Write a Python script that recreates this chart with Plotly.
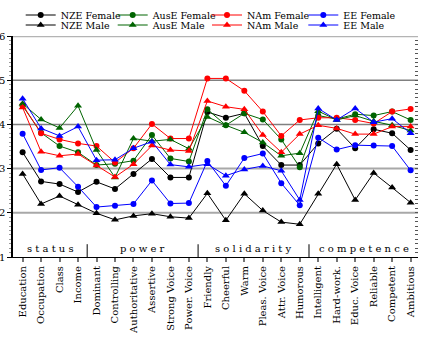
import plotly.graph_objects as go

categories = ["Education", "Occupation", "Class", "Income",
              "Dominant", "Controlling", "Authoritative", "Assertive", "Strong Voice", "Power. Voice",
              "Friendly", "Cheerful", "Warm", "Pleas. Voice", "Attr. Voice", "Humorous",
              "Intelligent", "Hard-work.", "Educ. Voice", "Reliable", "Competent", "Ambitious"]
groups = ["status", "power", "solidarity", "competence"]
group_sizes = [4, 6, 6, 6]

nze_female = [3.37, 2.71, 2.65, 2.47, 2.70, 2.54, 2.88, 3.22, 2.80, 2.80,
              4.28, 4.15, 4.25, 3.51, 3.08, 3.08, 3.57, 3.90, 3.46, 3.89, 3.80, 3.42]
nze_male = [2.88, 2.20, 2.38, 2.18, 1.99, 1.84, 1.93, 1.98, 1.91, 1.88,
            2.44, 1.83, 2.43, 2.05, 1.79, 1.74, 2.43, 3.10, 2.29, 2.90, 2.57, 2.23]
ause_female = [4.42, 3.81, 3.51, 3.37, 3.08, 3.11, 3.18, 3.76, 3.23, 3.16,
               4.34, 3.98, 4.25, 4.11, 3.66, 3.03, 4.20, 4.12, 4.23, 4.20, 4.29, 4.10]
ause_male = [4.47, 4.11, 3.92, 4.42, 3.42, 2.80, 3.68, 3.62, 3.66, 3.45,
             4.17, 3.98, 3.82, 3.59, 3.29, 3.35, 4.30, 4.10, 4.20, 4.07, 3.98, 3.86]
nam_female = [4.44, 3.80, 3.66, 3.57, 3.51, 3.14, 3.46, 4.01, 3.68, 3.68,
              5.04, 5.04, 4.76, 4.29, 3.74, 4.10, 4.15, 4.15, 4.10, 4.02, 4.29, 4.35]
nam_male = [4.38, 3.38, 3.29, 3.33, 3.07, 2.81, 3.10, 3.52, 3.42, 3.40,
            4.53, 4.40, 4.34, 3.76, 3.37, 3.78, 3.98, 3.91, 3.78, 3.78, 3.95, 3.95]
ee_female = [3.79, 2.97, 3.02, 2.59, 2.13, 2.16, 2.20, 2.73, 2.21, 2.22,
             3.17, 2.61, 3.24, 3.34, 2.67, 2.17, 3.70, 3.43, 3.53, 3.52, 3.51, 2.96]
ee_male = [4.58, 3.91, 3.74, 3.95, 3.19, 3.20, 3.46, 3.61, 3.09, 3.04,
           3.10, 2.84, 2.98, 3.06, 2.95, 2.29, 4.36, 4.10, 4.36, 4.05, 4.13, 3.80]

FONT = "DejaVu Serif, Liberation Serif, serif"
series = [
    ("NZE Female", nze_female, "#000000", "circle"),
    ("AusE Female", ause_female, "#006400", "circle"),
    ("NAm Female", nam_female, "#ff0000", "circle"),
    ("EE Female", ee_female, "#0000ff", "circle"),
    ("NZE Male", nze_male, "#000000", "triangle-up"),
    ("AusE Male", ause_male, "#006400", "triangle-up"),
    ("NAm Male", nam_male, "#ff0000", "triangle-up"),
    ("EE Male", ee_male, "#0000ff", "triangle-up"),
]

# legend placement (pixels of text start, row centre)
plot_left, plot_w, plot_top, plot_h = 13, 405, 36, 221
col_text_px = [60.7, 152.7, 247, 343.3]
row_px = [15, 25]

x_idx = list(range(len(categories)))
fig = go.Figure()
legends = {}
for k, (name, vals, col, sym) in enumerate(series):
    leg_id = "legend" if k == 0 else f"legend{k+1}"
    fig.add_trace(go.Scatter(
        x=x_idx, y=vals, name=name, mode="lines+markers", legend=leg_id,
        line=dict(color=col, width=1),
        marker=dict(symbol=sym, size=6 if sym == "circle" else 7, color=col),
    ))
    c, r = k % 4, k // 4
    legends[leg_id] = dict(
        orientation="h", xanchor="left", yanchor="middle",
        x=(col_text_px[c] - 40 - plot_left) / plot_w,
        y=1 + (plot_top - row_px[r]) / plot_h,
        bgcolor="rgba(0,0,0,0)", font=dict(family=FONT, size=9.5), itemwidth=30)

shapes = []
grid_styles = {2: ("#a8a8a8", 2), 3: ("#a8a8a8", 2), 4: ("#808080", 1.5), 5: ("#808080", 1.5), 6: ("#b4b4b4", 2.5)}
for yv, (c, w) in grid_styles.items():
    shapes.append(dict(type="line", xref="paper", x0=0, x1=1, yref="y", y0=yv, y1=yv,
                       line=dict(color=c, width=w), layer="below"))

annotations = []
start = 0
for i, (g, n) in enumerate(zip(groups, group_sizes)):
    center = start + (n - 1) / 2
    annotations.append(dict(x=center, y=1.2, xref="x", yref="y", text=" ".join(g),
                            showarrow=False, font=dict(family=FONT, size=10, color="black")))
    if i > 0:
        shapes.append(dict(type="line", xref="x", x0=start - 0.5, x1=start - 0.5, yref="y", y0=1, y1=1.29,
                           line=dict(color="#555555", width=1.5)))
    start += n

fig.update_layout(
    width=424, height=343,
    margin=dict(l=13, r=6, t=36, b=86, autoexpand=False),
    paper_bgcolor="white", plot_bgcolor="white",
    font=dict(family=FONT, size=10, color="black"),
    showlegend=True,
    xaxis=dict(range=[-0.52, 21.4], tickmode="array", tickvals=x_idx, ticktext=categories,
               tickangle=-90, ticks="outside", ticklen=4, tickcolor="#777", tickwidth=1.5,
               showgrid=False, zeroline=False, showline=True, linecolor="black", linewidth=1,
               tickfont=dict(family=FONT, size=10)),
    yaxis=dict(range=[1, 6], tickvals=[1, 2, 3, 4, 5, 6], showgrid=False, zeroline=False,
               showline=True, linecolor="black", linewidth=1.5, ticks="outside", ticklen=4,
               tickcolor="black", tickfont=dict(family=FONT, size=10),
               minor=dict(dtick=0.1, ticks="outside", ticklen=2, tickcolor="#999", showgrid=False)),
    yaxis2=dict(range=[1, 6], overlaying="y", side="right", showticklabels=False, showgrid=False,
                zeroline=False, showline=False, ticks="inside", ticklen=3, tickvals=[1, 2, 3, 4, 5, 6],
                tickcolor="#555",
                minor=dict(dtick=0.1, ticks="inside", ticklen=3, tickcolor="#555", showgrid=False)),
    shapes=shapes,
    annotations=annotations,
    **legends,
)
fig.add_trace(go.Scatter(x=[None], y=[None], yaxis="y2", showlegend=False, hoverinfo="skip"))

fig.write_html("out.html")
